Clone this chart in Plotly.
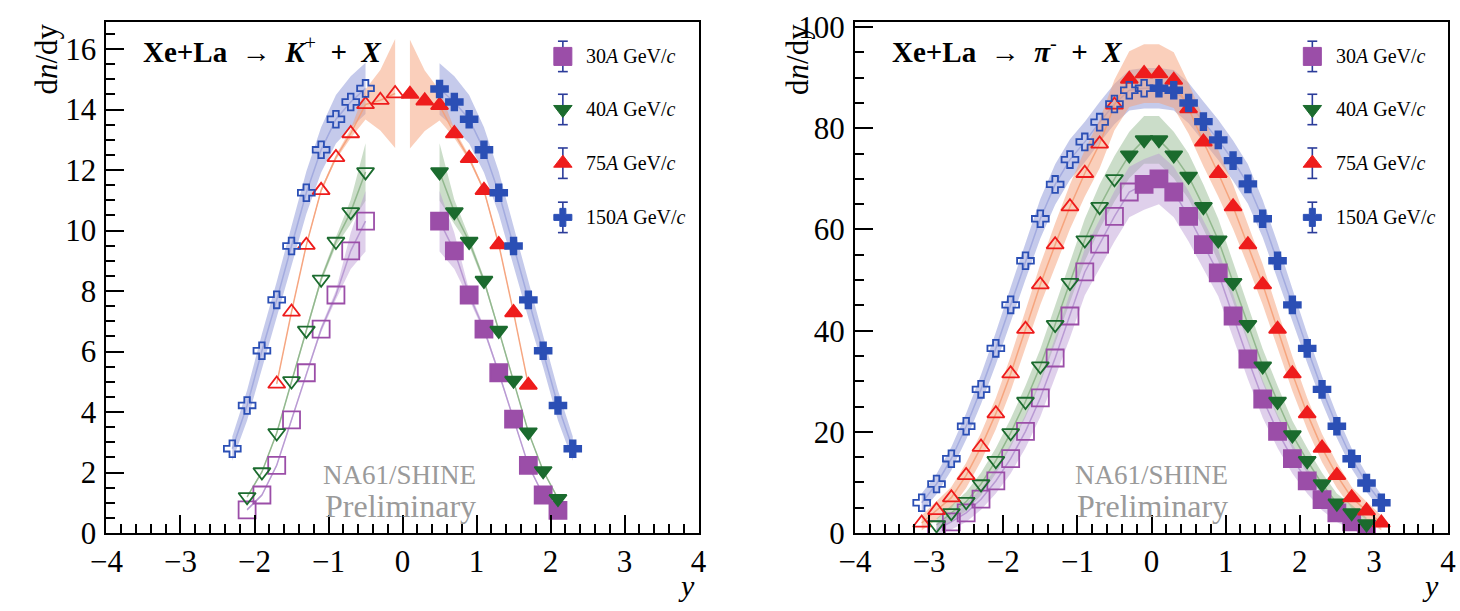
import plotly.graph_objects as go

# ---------------- data: K+ (left panel) ----------------
k_energies = ["30", "40", "75", "150"]

k30_x_open = [-2.1, -1.9, -1.7, -1.5, -1.3, -1.1, -0.9, -0.7, -0.5]
k30_v_open = [0.77, 1.26, 2.24, 3.74, 5.30, 6.74, 7.87, 9.33, 10.31]
k30_e_open = [0.04, 0.04, 0.05, 0.06, 0.07, 0.10, 0.15, 0.60, 1.00]
k30_x_fill = [0.5, 0.7, 0.9, 1.1, 1.3, 1.5, 1.7, 1.9, 2.1]
k30_v_fill = [10.31, 9.33, 7.87, 6.74, 5.30, 3.77, 2.24, 1.26, 0.75]
k30_e_fill = [1.00, 0.60, 0.15, 0.10, 0.07, 0.06, 0.05, 0.04, 0.04]

k40_x_open = [-2.1, -1.9, -1.7, -1.5, -1.3, -1.1, -0.9, -0.7, -0.5]
k40_v_open = [1.20, 2.02, 3.31, 5.03, 6.70, 8.39, 9.64, 10.62, 11.94]
k40_e_open = [0.04, 0.04, 0.05, 0.06, 0.07, 0.10, 0.15, 0.40, 0.95]
k40_x_fill = [0.5, 0.7, 0.9, 1.1, 1.3, 1.5, 1.7, 1.9, 2.1]
k40_v_fill = [11.94, 10.62, 9.64, 8.35, 6.70, 5.05, 3.34, 2.06, 1.14]
k40_e_fill = [0.95, 0.40, 0.15, 0.10, 0.07, 0.06, 0.05, 0.04, 0.04]

k75_x_open = [-1.7, -1.5, -1.3, -1.1, -0.9, -0.7, -0.5, -0.3, -0.1]
k75_v_open = [4.93, 7.31, 9.52, 11.33, 12.42, 13.21, 14.17, 14.31, 14.53]
k75_e_open = [0.04, 0.04, 0.05, 0.06, 0.08, 0.15, 0.50, 1.00, 1.80]
k75_x_fill = [0.1, 0.3, 0.5, 0.7, 0.9, 1.1, 1.3, 1.5, 1.7]
k75_v_fill = [14.51, 14.29, 14.14, 13.21, 12.39, 11.33, 9.54, 7.29, 4.89]
k75_e_fill = [1.80, 1.00, 0.50, 0.15, 0.08, 0.06, 0.05, 0.04, 0.04]

k150_x_open = [-2.3, -2.1, -1.9, -1.7, -1.5, -1.3, -1.1, -0.9, -0.7, -0.5]
k150_v_open = [2.79, 4.22, 6.03, 7.71, 9.49, 11.25, 12.67, 13.68, 14.25, 14.70]
k150_e_open = [0.40, 0.50, 0.55, 0.60, 0.65, 0.70, 0.75, 0.80, 0.85, 0.85]
k150_x_fill = [0.5, 0.7, 0.9, 1.1, 1.3, 1.5, 1.7, 1.9, 2.1, 2.3]
k150_v_fill = [14.68, 14.25, 13.68, 12.67, 11.25, 9.49, 7.71, 6.03, 4.22, 2.79]
k150_e_fill = [0.85, 0.85, 0.80, 0.75, 0.70, 0.65, 0.60, 0.55, 0.50, 0.40]

# ---------------- data: pi- (right panel) ----------------
p30_x_open = [-2.9, -2.7, -2.5, -2.3, -2.1, -1.9, -1.7, -1.5, -1.3, -1.1, -0.9, -0.7, -0.5, -0.3]
p30_v_open = [0.7, 2.2, 4.0, 6.7, 10.3, 14.7, 20.1, 26.7, 34.6, 42.9, 51.6, 57.1, 62.6, 67.4]
p30_e_open = [1.2, 1.5, 1.8, 2.1, 2.5, 2.9, 3.3, 3.7, 4.0, 4.3, 4.6, 4.8, 5.0, 5.0]
p30_x_fill = [-0.1, 0.1, 0.3, 0.5, 0.7, 0.9, 1.1, 1.3, 1.5, 1.7, 1.9, 2.1, 2.3, 2.5, 2.7, 2.9]
p30_v_fill = [68.9, 70.0, 67.4, 62.6, 57.0, 51.4, 42.9, 34.4, 26.5, 20.1, 14.7, 10.3, 6.6, 4.0, 2.2, 0.7]
p30_e_fill = [5.0, 5.0, 5.0, 5.0, 4.8, 4.6, 4.3, 4.0, 3.7, 3.3, 2.9, 2.5, 2.1, 1.8, 1.5, 1.2]

p40_x_open = [-2.9, -2.7, -2.5, -2.3, -2.1, -1.9, -1.7, -1.5, -1.3, -1.1, -0.9, -0.7, -0.5]
p40_v_open = [1.6, 4.0, 6.2, 9.7, 14.3, 19.8, 26.0, 33.0, 41.2, 49.5, 57.9, 64.5, 70.0]
p40_e_open = [1.3, 1.6, 1.9, 2.2, 2.5, 2.8, 3.1, 3.4, 3.7, 4.0, 4.2, 4.4, 4.5]
p40_x_fill = [-0.3, -0.1, 0.1, 0.3, 0.5, 0.7, 0.9, 1.1, 1.3, 1.5, 1.7, 1.9, 2.1, 2.3, 2.5, 2.7, 2.9]
p40_v_fill = [74.7, 77.7, 77.7, 74.7, 70.5, 64.5, 57.9, 49.5, 41.2, 33.0, 26.0, 19.4, 14.3, 9.7, 5.9, 4.0, 1.8]
p40_e_fill = [4.6, 4.7, 4.7, 4.6, 4.5, 4.4, 4.2, 4.0, 3.7, 3.4, 3.1, 2.8, 2.5, 2.2, 1.9, 1.6, 1.3]

p75_x_open = [-3.1, -2.9, -2.7, -2.5, -2.3, -2.1, -1.9, -1.7, -1.5, -1.3, -1.1, -0.9, -0.7, -0.5]
p75_v_open = [2.0, 4.5, 7.0, 11.4, 17.0, 23.6, 31.5, 40.3, 49.1, 57.0, 64.5, 71.1, 76.9, 84.6]
p75_e_open = [1.5, 1.8, 2.1, 2.5, 2.8, 3.1, 3.4, 3.7, 4.0, 4.2, 4.4, 4.6, 4.8, 5.0]
p75_x_fill = [-0.3, -0.1, 0.1, 0.3, 0.5, 0.7, 0.9, 1.1, 1.3, 1.5, 1.7, 1.9, 2.1, 2.3, 2.5, 2.7, 2.9, 3.1]
p75_v_fill = [89.7, 90.8, 90.8, 89.5, 83.9, 77.3, 71.1, 64.5, 57.0, 49.1, 40.3, 31.5, 23.6, 16.8, 11.4, 7.0, 4.4, 2.0]
p75_e_fill = [5.5, 5.8, 5.8, 5.5, 5.0, 4.8, 4.6, 4.4, 4.2, 4.0, 3.7, 3.4, 3.1, 2.8, 2.5, 2.1, 1.8, 1.5]

p150_x_open = [-3.1, -2.9, -2.7, -2.5, -2.3, -2.1, -1.9, -1.7, -1.5, -1.3, -1.1, -0.9, -0.7, -0.5, -0.3, -0.1]
p150_v_open = [6.0, 9.7, 14.7, 21.1, 28.4, 36.5, 45.1, 53.8, 62.1, 68.9, 73.8, 77.3, 81.2, 84.8, 87.5, 87.9]
p150_e_open = [1.8, 2.0, 2.3, 2.6, 2.9, 3.2, 3.5, 3.7, 3.9, 4.0, 4.0, 4.0, 4.0, 4.0, 4.0, 4.0]
p150_x_fill = [0.1, 0.3, 0.5, 0.7, 0.9, 1.1, 1.3, 1.5, 1.7, 1.9, 2.1, 2.3, 2.5, 2.7, 2.9, 3.1]
p150_v_fill = [87.9, 87.5, 85.0, 81.3, 77.7, 73.6, 69.0, 62.1, 53.8, 45.1, 36.5, 28.4, 21.1, 14.7, 9.9, 6.0]
p150_e_fill = [4.0, 4.0, 4.0, 4.0, 4.0, 4.0, 3.9, 3.7, 3.5, 3.2, 2.9, 2.6, 2.3, 2.0, 1.8, 1.6]

x_ticks = [-4, -3, -2, -1, 0, 1, 2, 3, 4]
k_y_ticks = [0, 2, 4, 6, 8, 10, 12, 14, 16]
p_y_ticks = [0, 20, 40, 60, 80, 100]

# ---------------- style ----------------
W, H = 1460, 611
TOP, BOTTOM = 11, 548
LF = (92, 694)
RF = (853, 1456)
K_YMAX = 16.88
P_YMAX = 100.9
SERIF = "Liberation Serif, Times New Roman, Times, serif"

style = {
    "30": dict(color="#9b4ea8", sym="square", size=17,
               band="rgba(185,150,210,0.45)", line="rgba(175,140,205,0.8)"),
    "40": dict(color="#1b6b2e", sym="triangle-down", size=15,
               band="rgba(140,180,135,0.45)", line="rgba(140,180,135,0.9)"),
    "75": dict(color="#ee1c1c", sym="triangle-up", size=15,
               band="rgba(245,160,120,0.5)", line="rgba(245,160,120,0.9)"),
    "150": dict(color="#2b4fb5", sym="cross", size=14,
                band="rgba(140,150,215,0.5)", line="rgba(140,150,215,0.6)"),
}

fig = go.Figure()


def band(xs, vs, es, st, xa, ya):
    up = [v + e for v, e in zip(vs, es)]
    lo = [v - e for v, e in zip(vs, es)]
    fig.add_trace(go.Scatter(x=list(xs) + list(xs)[::-1], y=up + lo[::-1],
                             fill="toself", fillcolor=st["band"], line=dict(width=0),
                             mode="lines", hoverinfo="skip", showlegend=False,
                             xaxis=xa, yaxis=ya))
    fig.add_trace(go.Scatter(x=xs, y=vs, mode="lines", line=dict(color=st["line"], width=1.5),
                             hoverinfo="skip", showlegend=False, xaxis=xa, yaxis=ya))


def pts(xs, vs, st, opened, xa, ya):
    sym = st["sym"] + ("-open" if opened else "")
    fig.add_trace(go.Scatter(x=xs, y=vs, mode="markers",
                             marker=dict(symbol=sym, size=st["size"], color=st["color"],
                                         line=dict(color=st["color"], width=1.8)),
                             showlegend=False, xaxis=xa, yaxis=ya))


k_sets = {
    "30": (k30_x_open, k30_v_open, k30_e_open, k30_x_fill, k30_v_fill, k30_e_fill),
    "40": (k40_x_open, k40_v_open, k40_e_open, k40_x_fill, k40_v_fill, k40_e_fill),
    "75": (k75_x_open, k75_v_open, k75_e_open, k75_x_fill, k75_v_fill, k75_e_fill),
    "150": (k150_x_open, k150_v_open, k150_e_open, k150_x_fill, k150_v_fill, k150_e_fill),
}
p_sets = {
    "30": (p30_x_open, p30_v_open, p30_e_open, p30_x_fill, p30_v_fill, p30_e_fill),
    "40": (p40_x_open, p40_v_open, p40_e_open, p40_x_fill, p40_v_fill, p40_e_fill),
    "75": (p75_x_open, p75_v_open, p75_e_open, p75_x_fill, p75_v_fill, p75_e_fill),
    "150": (p150_x_open, p150_v_open, p150_e_open, p150_x_fill, p150_v_fill, p150_e_fill),
}

band_order = ["150", "75", "40", "30"]
mark_order = ["30", "40", "75", "150"]

# left panel: bands split in two halves
for en in band_order:
    xo, vo, eo, xf, vf, ef = k_sets[en]
    band(xo, vo, eo, style[en], "x", "y")
    band(xf, vf, ef, style[en], "x", "y")
for en in mark_order:
    xo, vo, eo, xf, vf, ef = k_sets[en]
    pts(xo, vo, style[en], True, "x", "y")
    pts(xf, vf, style[en], False, "x", "y")

# right panel: continuous bands
for en in band_order:
    xo, vo, eo, xf, vf, ef = p_sets[en]
    band(list(xo) + list(xf), list(vo) + list(vf), list(eo) + list(ef), style[en], "x2", "y2")
for en in mark_order:
    xo, vo, eo, xf, vf, ef = p_sets[en]
    pts(xo, vo, style[en], True, "x2", "y2")
    pts(xf, vf, style[en], False, "x2", "y2")


def px2x(px, frame):
    return -4 + (px - frame[0]) * 8.0 / (frame[1] - frame[0])


def py2y(py, ymax):
    return (BOTTOM - py) * ymax / (BOTTOM - TOP)


annotations = []
shapes = []

# legends
legend_rows = [46.7, 102.5, 159.0, 216.0]
for frame, ymax, xa, ya in [(LF, K_YMAX, "x", "y"), (RF, P_YMAX, "x2", "y2")]:
    mx = frame[1] - 138
    for en, py in zip(k_energies, legend_rows):
        shapes.append(dict(type="line", xref="paper", yref="paper",
                           x0=mx / W, x1=mx / W, y0=1 - (py - 16) / H, y1=1 - (py + 16) / H,
                           line=dict(color="#2b3c9a", width=1.6), layer="below"))
        for cy in (py - 16, py + 16):
            shapes.append(dict(type="line", xref="paper", yref="paper",
                               x0=(mx - 5) / W, x1=(mx + 5) / W, y0=1 - cy / H, y1=1 - cy / H,
                               line=dict(color="#2b3c9a", width=1.6), layer="below"))
        st = style[en]
        fig.add_trace(go.Scatter(x=[px2x(mx, frame)], y=[py2y(py, ymax)], mode="markers",
                                 marker=dict(symbol=st["sym"], size=st["size"] + 1, color=st["color"],
                                             line=dict(color=st["color"], width=1)),
                                 showlegend=False, xaxis=xa, yaxis=ya))
        annotations.append(dict(text=f"{en}<i>A</i> GeV/<i>c</i>", xref="paper", yref="paper",
                                x=(mx + 22) / W, y=1 - py / H, xanchor="left", yanchor="middle",
                                showarrow=False, font=dict(family=SERIF, size=20, color="black")))

# titles
annotations.append(dict(text="<b>Xe+La</b>\u2002\u2192\u2002<b><i>K</i></b><sup>+</sup>\u2002<b>+</b>\u2002<b><i>X</i></b>",
                        xref="paper", yref="paper", x=127 / W, y=1 - 40 / H, xanchor="left", yanchor="middle",
                        showarrow=False, font=dict(family=SERIF, size=29, color="black")))
annotations.append(dict(text="<b>Xe+La</b>\u2002\u2192\u2002<b><i>π</i></b><sup>-</sup>\u2002<b>+</b>\u2002<b><i>X</i></b>",
                        xref="paper", yref="paper", x=889 / W, y=1 - 40 / H, xanchor="left", yanchor="middle",
                        showarrow=False, font=dict(family=SERIF, size=29, color="black")))

# axis titles
for xc in (31, 794):
    annotations.append(dict(text="d<i>n</i>/dy", xref="paper", yref="paper", x=xc / W, y=1 - 10 / H,
                            xanchor="center", yanchor="top", textangle=-90, showarrow=False,
                            font=dict(family=SERIF, size=31, color="black")))
for xc in (682, 1438):
    annotations.append(dict(text="<i>y</i>", xref="paper", yref="paper", x=xc / W, y=1 - 603 / H,
                            xanchor="center", yanchor="middle", showarrow=False,
                            font=dict(family=SERIF, size=30, color="black")))

# watermark
for xc in (390, 1154):
    annotations.append(dict(text="NA61/SHINE", xref="paper", yref="paper", x=xc / W, y=1 - 487 / H,
                            xanchor="center", yanchor="middle", showarrow=False,
                            font=dict(family=SERIF, size=27, color="#9a9a9a")))
    annotations.append(dict(text="Preliminary", xref="paper", yref="paper", x=(xc + 1) / W, y=1 - 520 / H,
                            xanchor="center", yanchor="middle", showarrow=False,
                            font=dict(family=SERIF, size=32, color="#9a9a9a")))


def xaxis(frame):
    return dict(domain=[frame[0] / W, frame[1] / W], range=[-4, 4], tickvals=x_ticks,
                ticktext=[("\u2212" + str(-t)) if t < 0 else str(t) for t in x_ticks],
                ticks="inside", ticklen=18, tickwidth=1.5, tickcolor="black",
                minor=dict(dtick=0.2, ticks="inside", ticklen=9, tickwidth=1.5, tickcolor="black"),
                showline=True, linecolor="black", linewidth=2, mirror=True,
                showgrid=False, zeroline=False, ticklabeloverflow="allow",
                tickfont=dict(family=SERIF, size=31, color="black"))


def yaxis(anchor, ymax, ticks, minor):
    return dict(domain=[1 - BOTTOM / H, 1 - TOP / H], range=[0, ymax], tickvals=ticks,
                anchor=anchor, ticks="inside", ticklen=18, tickwidth=1.5, tickcolor="black",
                minor=dict(dtick=minor, ticks="inside", ticklen=9, tickwidth=1.5, tickcolor="black"),
                showline=True, linecolor="black", linewidth=2, mirror=True,
                showgrid=False, zeroline=False, ticklabelstandoff=2, ticklabeloverflow="allow",
                tickfont=dict(family=SERIF, size=31, color="black"))


fig.update_layout(
    width=W, height=H, margin=dict(l=0, r=0, t=0, b=0),
    paper_bgcolor="white", plot_bgcolor="white", showlegend=False,
    xaxis=dict(xaxis(LF), anchor="y"),
    yaxis=yaxis("x", K_YMAX, k_y_ticks, 0.5),
    xaxis2=dict(xaxis(RF), anchor="y2"),
    yaxis2=yaxis("x2", P_YMAX, p_y_ticks, 5),
    annotations=annotations, shapes=shapes,
)

fig.write_html("out.html")
